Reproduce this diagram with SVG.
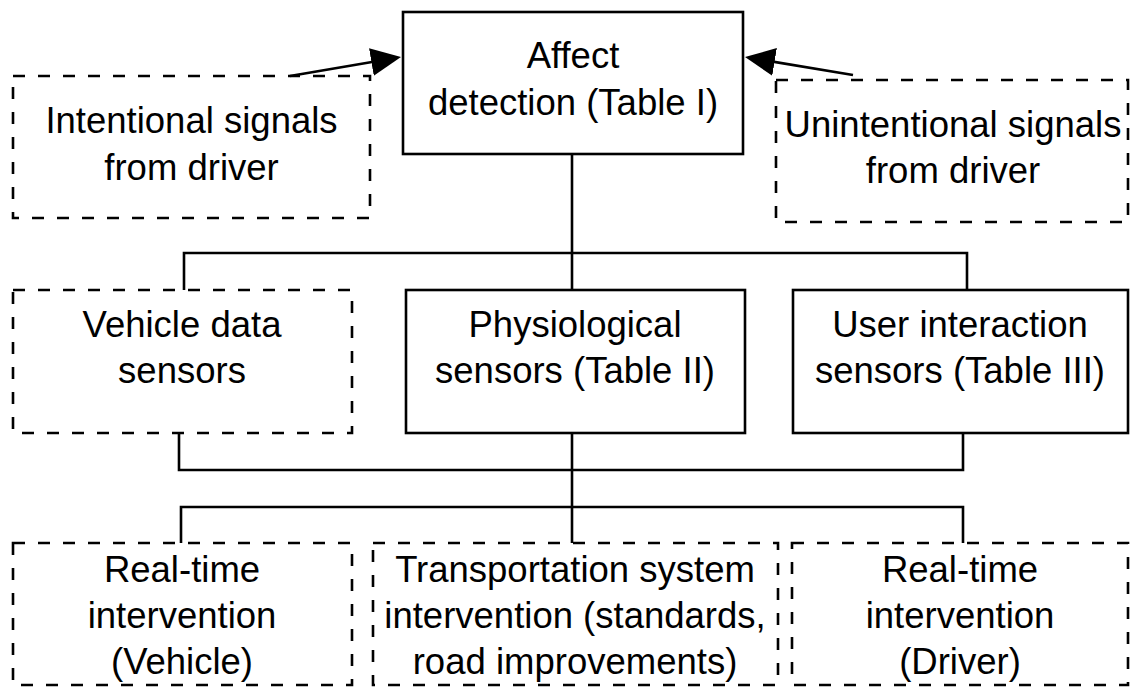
<svg xmlns="http://www.w3.org/2000/svg" width="1131" height="688" viewBox="0 0 1131 688">
<style>
  .solid { fill: #fff; stroke: #000; stroke-width: 2.6; }
  .dashed { fill: none; stroke: #000; stroke-width: 2.6; stroke-dasharray: 12 13; }
  .conn { fill: none; stroke: #000; stroke-width: 2.6; stroke-linejoin: miter; }
  text { font-family: "Liberation Sans", Arial, sans-serif; font-size: 36.5px; fill: #000; text-anchor: middle; }
</style>
<defs>
  <marker id="arrow" markerUnits="userSpaceOnUse" markerWidth="30" markerHeight="28" refX="8" refY="14" orient="auto" viewBox="0 0 30 28">
    <path d="M0,0 L30,14 L0,28 Z" fill="#000"/>
  </marker>
</defs>
<rect width="1131" height="688" fill="#fff"/>

<g id="connectors">
  <line class="conn" x1="290" y1="76" x2="379.3" y2="60.7" marker-end="url(#arrow)"/>
  <line class="conn" x1="853" y1="75" x2="766.7" y2="60.6" marker-end="url(#arrow)"/>
  <path class="conn" d="M572,154 V253"/>
  <path class="conn" d="M184,290 V253 H967 V290"/>
  <path class="conn" d="M572,253 V290"/>
  <path class="conn" d="M179,433 V470 H963 V433"/>
  <path class="conn" d="M572,433 V543"/>
  <path class="conn" d="M181,543 V507 H963 V543"/>
</g>

<g id="affect">
  <rect class="solid" x="403" y="12" width="340" height="142"/>
  <text x="573" y="68">Affect</text>
  <text x="573" y="115">detection (Table I)</text>
</g>
<g id="intentional">
  <rect class="dashed" x="13" y="76" width="357" height="142"/>
  <text x="191.5" y="133">Intentional signals</text>
  <text x="191.5" y="180">from driver</text>
</g>
<g id="unintentional">
  <rect class="dashed" x="776" y="80" width="352" height="142"/>
  <text x="953" y="137">Unintentional signals</text>
  <text x="953" y="183">from driver</text>
</g>
<g id="vehicle-sensors">
  <rect class="dashed" x="13" y="290" width="339" height="143"/>
  <text x="182" y="337">Vehicle data</text>
  <text x="182" y="383">sensors</text>
</g>
<g id="physiological">
  <rect class="solid" x="406" y="290" width="339" height="143"/>
  <text x="575" y="337">Physiological</text>
  <text x="575" y="383">sensors (Table II)</text>
</g>
<g id="user-interaction">
  <rect class="solid" x="793" y="290" width="335" height="143"/>
  <text x="960" y="337">User interaction</text>
  <text x="960" y="383">sensors (Table III)</text>
</g>
<g id="rt-vehicle">
  <rect class="dashed" x="13" y="543" width="339" height="142"/>
  <text x="182" y="582">Real-time</text>
  <text x="182" y="628">intervention</text>
  <text x="182" y="674">(Vehicle)</text>
</g>
<g id="transport">
  <rect class="dashed" x="373" y="543" width="405" height="142"/>
  <text x="575" y="582">Transportation system</text>
  <text x="575" y="628">intervention (standards,</text>
  <text x="575" y="674">road improvements)</text>
</g>
<g id="rt-driver">
  <rect class="dashed" x="792" y="543" width="336" height="142"/>
  <text x="960" y="582">Real-time</text>
  <text x="960" y="628">intervention</text>
  <text x="960" y="674">(Driver)</text>
</g>
</svg>
